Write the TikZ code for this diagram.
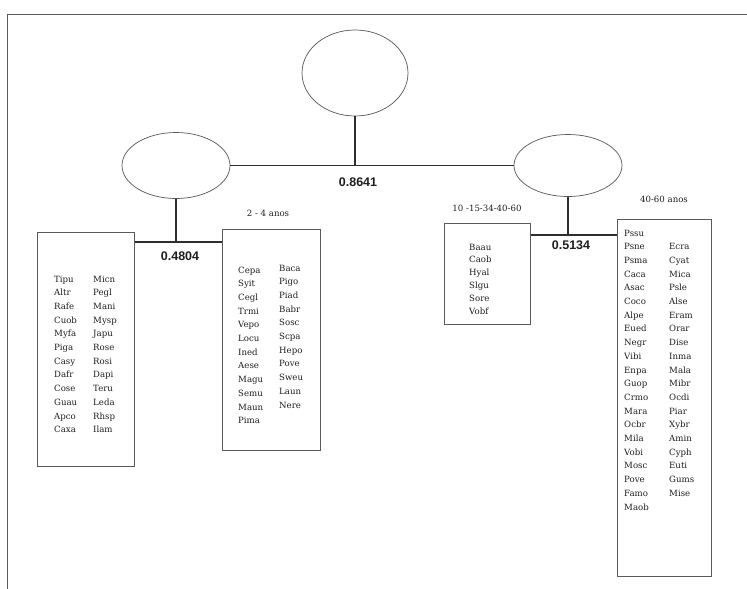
\documentclass[tikz,border=0pt]{standalone}
\usepackage{fontspec}
\setmainfont{DejaVu Serif}
\newfontfamily\numfont{Liberation Sans}
\usetikzlibrary{shapes.geometric}
\definecolor{linec}{HTML}{2E2E2E}
\definecolor{ellc}{HTML}{555555}
\definecolor{boxc}{HTML}{5A5A5A}
\definecolor{txtc}{HTML}{1E1E1E}
\begin{document}
\begin{tikzpicture}[x=1pt,y=-1pt,
  frame/.style={draw=boxc,line width=0.9pt},
  ell/.style={ellipse,draw=ellc,line width=0.7pt,inner sep=0pt},
  conn/.style={draw=linec,line width=1.2pt},
  listbox/.style={rectangle,draw=boxc,line width=0.9pt,inner sep=0pt,anchor=north west},
  lst/.style={anchor=base west,inner sep=0pt,font=\fontsize{8.6}{10}\selectfont,text=txtc},
  grp/.style={inner sep=0pt,font=\fontsize{8.6}{10}\selectfont,text=txtc},
  num/.style={inner sep=0pt,font=\numfont\bfseries\fontsize{12.5}{14}\selectfont,text=txtc}]
\useasboundingbox (0,0) rectangle (747,589);
\fill[white] (0,0) rectangle (747,589);
% page frame
\coordinate (fbl) at (7,589);
\coordinate (ftl) at (7,14);
\coordinate (ftr) at (747,14);
\draw[frame] (fbl) -- (ftl) -- (ftr);
% ellipses
\node[ell,minimum width=106pt,minimum height=86pt] (root) at (355,73) {};
\node[ell,minimum width=108pt,minimum height=66pt] (L) at (176,165.5) {};
\node[ell,minimum width=108pt,minimum height=62pt] (R) at (568,165.5) {};
% boxes
\node[listbox,minimum width=97pt,minimum height=234pt] (boxA) at (37,232) {};
\node[listbox,minimum width=98pt,minimum height=221pt] (boxB) at (222,229) {};
\node[listbox,minimum width=86pt,minimum height=101pt] (boxC) at (444,223) {};
\node[listbox,minimum width=94pt,minimum height=357pt] (boxD) at (617,219) {};
% connectors
\draw[conn] (L.east) -- (R.west);
\draw[conn] (root.south) -- (root.south |- L.east);
\coordinate (jl) at (176,242);
\draw[conn] (L.south) -- (jl);
\draw[conn] (boxA.east |- jl) -- (boxB.west |- jl);
\coordinate (jr) at (568,235);
\draw[conn] (R.south) -- (jr);
\draw[conn] (boxC.east |- jr) -- (boxD.west |- jr);
% weights
\node[num] (w0) at (358,182) {0.8641};
\node[num] (w1) at (180,256) {0.4804};
\node[num] (w2) at (571,245) {0.5134};
% group labels
\node[grp] (g1) at (268,213) {2 - 4 anos};
\node[grp] (g2) at (487,208) {10 -15-34-40-60};
\node[grp] (g3) at (664,199) {40-60 anos};
% lists
\def\sp{13.7}
\foreach \w [count=\i] in {Tipu,Altr,Rafe,Cuob,Myfa,Piga,Casy,Dafr,Cose,Guau,Apco,Caxa}
  \node[lst] (a1-\i) at ({54},{282+\sp*(\i-1)}) {\w};
\foreach \w [count=\i] in {Micn,Pegl,Mani,Mysp,Japu,Rose,Rosi,Dapi,Teru,Leda,Rhsp,Ilam}
  \node[lst] (a2-\i) at ({93},{282+\sp*(\i-1)}) {\w};
\foreach \w [count=\i] in {Cepa,Syit,Cegl,Trmi,Vepo,Locu,Ined,Aese,Magu,Semu,Maun,Pima}
  \node[lst] (b1-\i) at ({238},{273+\sp*(\i-1)}) {\w};
\foreach \w [count=\i] in {Baca,Pigo,Piad,Babr,Sosc,Scpa,Hepo,Pove,Sweu,Laun,Nere}
  \node[lst] (b2-\i) at ({279},{271+\sp*(\i-1)}) {\w};
\foreach \w [count=\i] in {Baau,Caob,Hyal,Slgu,Sore,Vobf}
  \node[lst] (c1-\i) at ({469},{250+12.8*(\i-1)}) {\w};
\foreach \w [count=\i] in {Pssu,Psne,Psma,Caca,Asac,Coco,Alpe,Eued,Negr,Vibi,Enpa,Guop,Crmo,Mara,Ocbr,Mila,Vobi,Mosc,Pove,Famo,Maob}
  \node[lst] (d1-\i) at ({624},{236+\sp*(\i-1)}) {\w};
\foreach \w [count=\i] in {Ecra,Cyat,Mica,Psle,Alse,Eram,Orar,Dise,Inma,Mala,Mibr,Ocdi,Piar,Xybr,Amin,Cyph,Euti,Gums,Mise}
  \node[lst] (d2-\i) at ({669},{236+\sp*\i}) {\w};
\end{tikzpicture}
\end{document}
